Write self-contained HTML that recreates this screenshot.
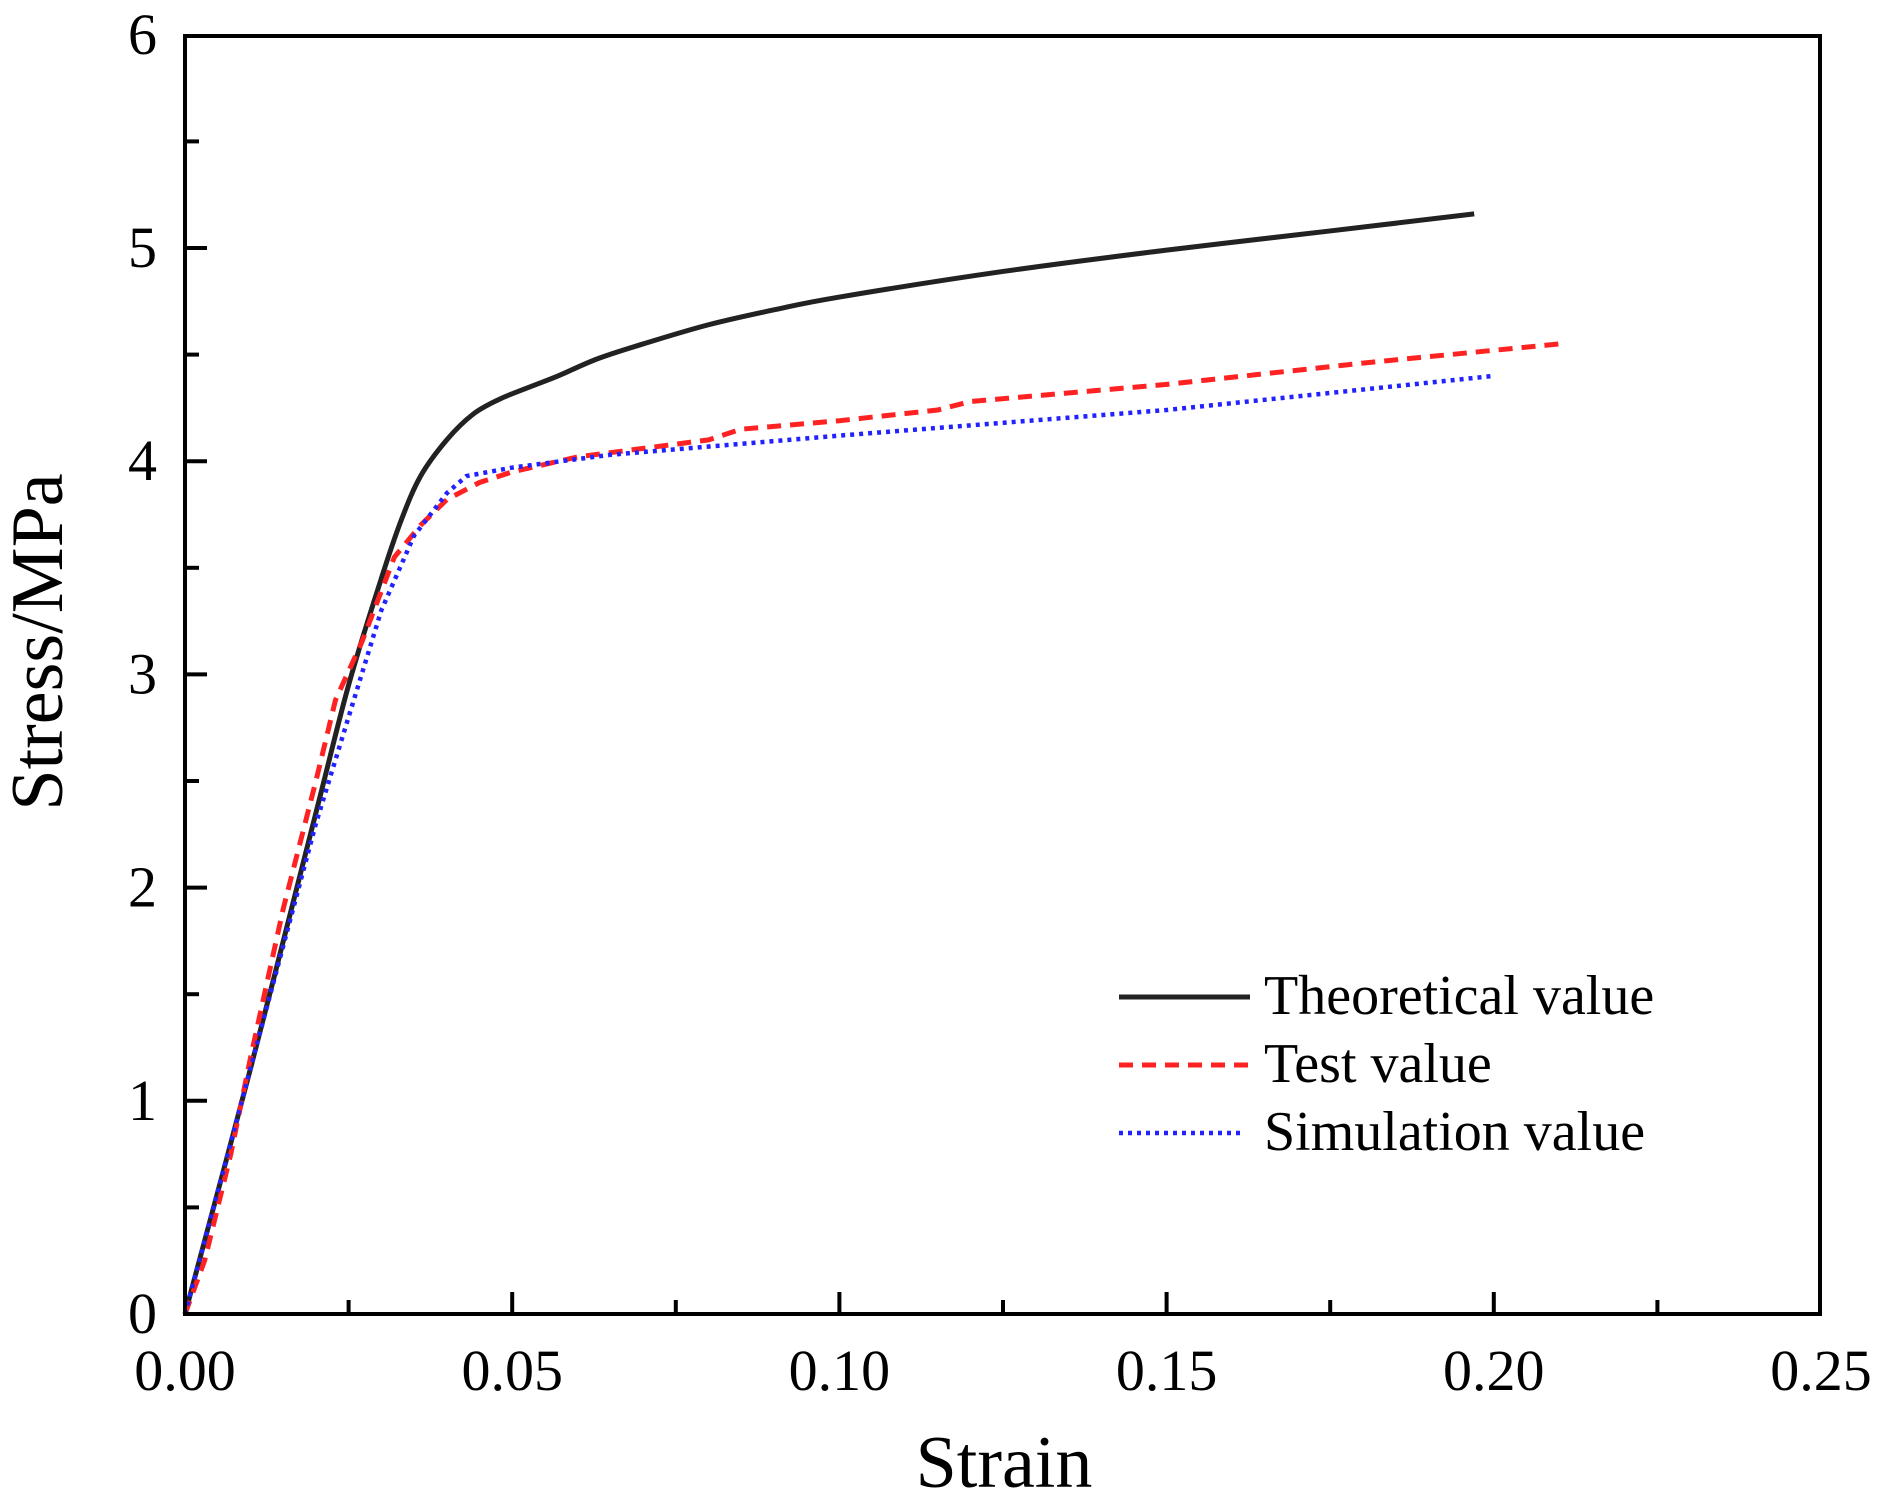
<!DOCTYPE html>
<html><head><meta charset="utf-8"><style>
html,body{margin:0;padding:0;background:#fff;}
svg{display:block;}
text{font-family:"Liberation Serif",serif;fill:#000;}
</style></head><body>
<svg id="s" width="1882" height="1503" xmlns="http://www.w3.org/2000/svg">
<rect x="0" y="0" width="1882" height="1503" fill="#fff"/>
<g id="plot"></g>
<rect x="185" y="36" width="1635" height="1278" fill="none" stroke="#000" stroke-width="4"/>
<g id="ticks" stroke="#000" stroke-width="4"></g>
<g font-size="58" text-anchor="middle" id="xl"></g>
<g font-size="58" text-anchor="end" id="yl"></g>
<text x="1004" y="1487" font-size="74" text-anchor="middle">Strain</text>
<text transform="translate(62,642) rotate(-90)" font-size="74" text-anchor="middle">Stress/MPa</text>
<line x1="1119" y1="997" x2="1250" y2="997" stroke="#222" stroke-width="5"/>
<line x1="1119" y1="1065" x2="1250" y2="1065" stroke="#f22" stroke-width="5" stroke-dasharray="14,9"/>
<line x1="1119" y1="1133" x2="1240" y2="1133" stroke="#22f" stroke-width="4.5" stroke-dasharray="4,5"/>
<text x="1264" y="1014" font-size="56">Theoretical value</text>
<text x="1264" y="1082" font-size="56">Test value</text>
<text x="1264" y="1150" font-size="56">Simulation value</text>
</svg>
<script>
var X=function(v){return 185+v*6544;},Y=function(v){return 1314-v*213.2;};
var ns="http://www.w3.org/2000/svg";
function add(p,tag,a){var e=document.createElementNS(ns,tag);for(var k in a)e.setAttribute(k,a[k]);p.appendChild(e);return e;}
var t=document.getElementById("ticks"),xl=document.getElementById("xl"),yl=document.getElementById("yl");
for(var i=0;i<=10;i++){var x=X(i*0.025),L=(i%2==0)?22:14;if(i>0&&i<10)add(t,"line",{x1:x,y1:1314,x2:x,y2:1314-L});
 if(i%2==0){var tx=add(xl,"text",{x:x,y:1390});tx.textContent=(i*0.025).toFixed(2);}}
for(var j=0;j<=12;j++){var y=Y(j*0.5),L=(j%2==0)?22:14;if(j>0&&j<12)add(t,"line",{x1:185,y1:y,x2:185+L,y2:y});
 if(j%2==0){var ty=add(yl,"text",{x:157,y:y+19});ty.textContent=j/2;}}
function pts(a){return a.map(function(p){return X(p[0]).toFixed(1)+","+Y(p[1]).toFixed(1);}).join(" ");}
function smooth(a){var P=a.map(function(p){return [X(p[0]),Y(p[1])];});var d="M"+P[0][0]+","+P[0][1];
 for(var i=0;i<P.length-1;i++){var p0=P[i-1]||P[i],p1=P[i],p2=P[i+1],p3=P[i+2]||p2;
 var c1=[p1[0]+(p2[0]-p0[0])/6,p1[1]+(p2[1]-p0[1])/6],c2=[p2[0]-(p3[0]-p1[0])/6,p2[1]-(p3[1]-p1[1])/6];
 d+=" C"+c1.join(",")+" "+c2.join(",")+" "+p2.join(",");}return d;}
var th=[[0,0],[0.01,1.15],[0.02,2.35],[0.025,2.95],[0.03,3.45],[0.033,3.72],[0.036,3.93],[0.04,4.1],[0.044,4.22],[0.048,4.29],[0.052,4.34],[0.057,4.4],[0.063,4.48],[0.07,4.55],[0.08,4.64],[0.09,4.71],[0.1,4.77],[0.125,4.89],[0.15,4.99],[0.175,5.08],[0.197,5.16]];
var te=[[0,0],[0.003,0.25],[0.007,0.75],[0.01,1.2],[0.015,1.9],[0.02,2.5],[0.023,2.88],[0.027,3.15],[0.032,3.55],[0.036,3.7],[0.04,3.82],[0.045,3.9],[0.05,3.95],[0.06,4.02],[0.07,4.06],[0.08,4.1],[0.085,4.15],[0.1,4.19],[0.115,4.24],[0.12,4.28],[0.15,4.36],[0.18,4.46],[0.21,4.55]];
var si=[[0,0],[0.01,1.15],[0.02,2.3],[0.03,3.3],[0.035,3.65],[0.04,3.85],[0.043,3.93],[0.05,3.97],[0.065,4.03],[0.1,4.12],[0.15,4.24],[0.2,4.4]];
var g=document.getElementById("plot");
add(g,"path",{d:smooth(th),fill:"none",stroke:"#222","stroke-width":5,"stroke-linejoin":"round"});
add(g,"polyline",{points:pts(te),fill:"none",stroke:"#f22","stroke-width":5,"stroke-dasharray":"14,9"});
add(g,"polyline",{points:pts(si),fill:"none",stroke:"#22f","stroke-width":4.5,"stroke-dasharray":"4,5"});
</script>
</body></html>
